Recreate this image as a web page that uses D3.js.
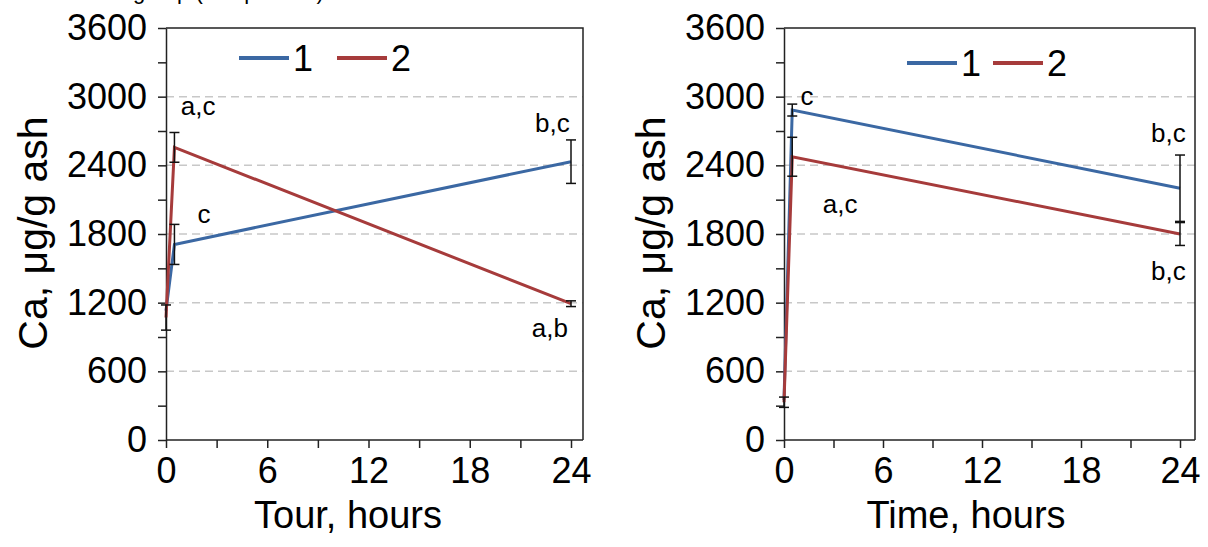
<!DOCTYPE html>
<html>
<head>
<meta charset="utf-8">
<script src="https://d3js.org/d3.v7.min.js"></script>
<style>
  body { margin: 0; background: #fff; }
  svg { display: block; font-family: "Liberation Sans", Arial, sans-serif; }
</style>
</head>
<body>
<svg id="chart" width="1208" height="547"></svg>
<script>
// time points (hours)
var hours = [0, 0.5, 24];
var seriesNames = ["1", "2"];
var colors = ["#3b68a3", "#a63b3b"];

// left panel: "Tour"
var tour1 = [1130, 1709, 2432];
var tour1Err = [0, 175, 190];
var tour2 = [1070, 2557, 1191];
var tour2Err = [110, 130, 25];
var tourNotes = [
  {label: "a,c", t: 1.9, v: 2920},
  {label: "c", t: 2.25, v: 1979},
  {label: "b,c", t: 22.9, v: 2772},
  {label: "a,b", t: 22.75, v: 976}
];

// right panel: "Time"
var time1 = [350, 2883, 2200];
var time1Err = [0, 52, 290];
var time2 = [330, 2475, 1800];
var time2Err = [45, 170, 100];
var timeNotes = [
  {label: "c", t: 1.4, v: 3010},
  {label: "a,c", t: 3.4, v: 2066},
  {label: "b,c", t: 23.3, v: 2680},
  {label: "b,c", t: 23.3, v: 1480}
];

var yTicks = [0, 600, 1200, 1800, 2400, 3000, 3600];
var yMinor = [300, 900, 1500, 2100, 2700, 3300];
var xTicks = [0, 6, 12, 18, 24];
var xMinor = [3, 9, 15, 21];
var yTitle = "Ca, \u03bcg/g ash";

var svg = d3.select("#chart");

// clipped caption line at the very top (only descenders show)
svg.append("text")
  .attr("x", 133).attr("y", -1)
  .attr("font-size", 22)
  .text("group (comparison)");

function drawPanel(p) {
  var x = d3.scaleLinear().domain([0, 24]).range([p.x0, p.x1]);
  var y = d3.scaleLinear().domain([0, 3600]).range([440, 28]);
  var g = svg.append("g");
  var right = p.frameRight;

  // grid
  g.append("g").selectAll("line")
    .data(yTicks.filter(d => d > 0 && d < 3600))
    .join("line")
    .attr("x1", p.x0).attr("x2", right)
    .attr("y1", d => y(d)).attr("y2", d => y(d))
    .attr("stroke", "#c8c8c8").attr("stroke-width", 1.5)
    .attr("stroke-dasharray", "8,5");

  // frame top/right
  g.append("path")
    .attr("d", `M${p.x0},${y(3600)}H${right}V${y(0)}`)
    .attr("fill", "none").attr("stroke", "#222").attr("stroke-width", 1.5);

  // y axis
  g.append("g")
    .attr("transform", `translate(${p.x0},0)`)
    .call(d3.axisLeft(y).tickValues(yTicks).tickFormat(d3.format("d"))
      .tickSize(8).tickPadding(11).tickSizeOuter(0));
  g.append("g")
    .attr("transform", `translate(${p.x0},0)`)
    .call(d3.axisLeft(y).tickValues(yMinor).tickSize(8).tickFormat("").tickSizeOuter(0))
    .select(".domain").remove();

  // x axis
  var xAxis = g.append("g")
    .attr("transform", `translate(0,${y(0)})`)
    .call(d3.axisBottom(x).tickValues(xTicks).tickSize(8).tickPadding(9).tickSizeOuter(0));
  g.append("g")
    .attr("transform", `translate(0,${y(0)})`)
    .call(d3.axisBottom(x).tickValues(xMinor).tickSize(8).tickFormat("").tickSizeOuter(0))
    .select(".domain").remove();

  // make the x domain run to the frame edge
  xAxis.select(".domain").attr("d", `M${p.x0},0H${right}`);

  g.selectAll(".domain").attr("stroke", "#222").attr("stroke-width", 1.5);
  g.selectAll(".tick line").attr("stroke", "#222").attr("stroke-width", 1.5);
  g.selectAll(".tick text")
    .attr("font-family", "Liberation Sans, Arial, sans-serif")
    .attr("font-size", 36).attr("fill", "#000");

  // series lines
  var line = d3.line().x((d, i) => x(hours[i])).y(d => y(d));
  p.series.forEach(function(s, k) {
    g.append("path")
      .datum(s.values)
      .attr("d", line)
      .attr("fill", "none")
      .attr("stroke", colors[k])
      .attr("stroke-width", 3)
      .attr("stroke-linejoin", "miter");
  });

  // error bars
  p.series.forEach(function(s) {
    var eb = g.append("g").attr("stroke", "#111").attr("stroke-width", 1.5);
    s.values.forEach(function(v, i) {
      var e = s.err[i];
      if (!e) return;
      var cx = x(hours[i]);
      eb.append("line").attr("x1", cx).attr("x2", cx)
        .attr("y1", y(v - e)).attr("y2", y(v + e));
      [v - e, v + e].forEach(function(c) {
        eb.append("line").attr("x1", cx - 5).attr("x2", cx + 5)
          .attr("y1", y(c)).attr("y2", y(c));
      });
    });
  });

  // significance letters
  g.append("g").selectAll("text")
    .data(p.notes)
    .join("text")
    .attr("x", d => x(d.t)).attr("y", d => y(d.v))
    .attr("text-anchor", "middle")
    .attr("dominant-baseline", "central")
    .attr("font-size", 26)
    .text(d => d.label);

  // legend
  var lg = g.append("g").attr("transform", `translate(${p.legendX},${p.legendY})`);
  seriesNames.forEach(function(n, k) {
    var ox = k * p.legendStep;
    lg.append("line").attr("x1", ox).attr("x2", ox + 50)
      .attr("y1", 0).attr("y2", 0)
      .attr("stroke", colors[k]).attr("stroke-width", 4);
    lg.append("text").attr("x", ox + 54).attr("y", 0)
      .attr("dominant-baseline", "central")
      .attr("font-size", 36)
      .text(n);
  });

  // axis titles
  g.append("text")
    .attr("x", p.xTitleX).attr("y", 528)
    .attr("text-anchor", "middle")
    .attr("font-size", 38)
    .text(p.xTitle);
  g.append("text")
    .attr("transform", `translate(${p.yTitleX},233) rotate(-90)`)
    .attr("text-anchor", "middle")
    .attr("font-size", 41)
    .text(yTitle);
}

drawPanel({
  x0: 166, x1: 571, frameRight: 583,
  series: [{values: tour1, err: tour1Err}, {values: tour2, err: tour2Err}],
  notes: tourNotes,
  legendX: 239, legendY: 58, legendStep: 98,
  xTitle: "Tour, hours", xTitleX: 348, yTitleX: 47
});

drawPanel({
  x0: 784, x1: 1180, frameRight: 1195,
  series: [{values: time1, err: time1Err}, {values: time2, err: time2Err}],
  notes: timeNotes,
  legendX: 907, legendY: 63, legendStep: 86,
  xTitle: "Time, hours", xTitleX: 966, yTitleX: 665
});
</script>
</body>
</html>
